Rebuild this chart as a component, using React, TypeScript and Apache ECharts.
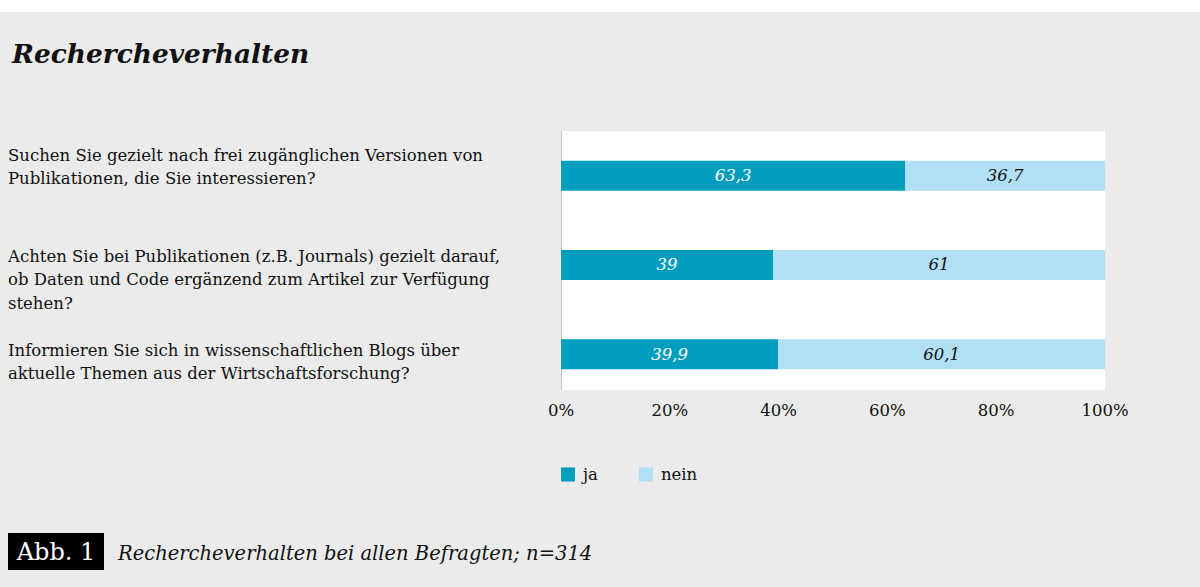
import React, { useEffect, useRef } from "react";
import * as echarts from "echarts";

const chartTitle = "Recherche" + "verhalten";
const categories = [
  "Suchen Sie gezielt nach frei zugänglichen Versionen von\nPublikationen, die Sie interessieren?",
  "Achten Sie bei Publikationen (z.B. Journals) gezielt darauf,\nob Daten und Code ergänzend zum Artikel zur Verfügung\nstehen?",
  "Informieren Sie sich in wissenschaftlichen Blogs über\naktuelle Themen aus der Wirtschaftsforschung?",
];
const seriesNames = ["ja", "nein"];
const jaValues = [63.3, 39, 39.9];
const neinValues = [36.7, 61, 60.1];
const figureLabel = "Abb. 1";
const caption = "Recherche" + "verhalten bei allen Befragten; n=314";

// layout (not data): top edge of each question's text block
const labelTops = [143.5, 244.5, 338.5];

const FONT = "'DejaVu Serif', serif";
const JA = "#009dbd";
const NEIN = "#b1dff6";
const BG = "#ebebeb";

export default function App() {
  const ref = useRef<HTMLDivElement>(null);
  useEffect(() => {
    if (!ref.current) return;
    const chart = echarts.init(ref.current, undefined, { renderer: "svg" });
    const fmt = (p: any) => String(p.value).replace(".", ",");
    chart.setOption({
      animation: false,
      backgroundColor: BG,
      textStyle: { fontFamily: FONT },
      title: {
        text: chartTitle,
        left: 7,
        top: 35,
        textStyle: {
          fontFamily: FONT,
          fontSize: 26.4,
          fontStyle: "italic",
          fontWeight: "bold",
          color: "#111",
        },
      },
      legend: {
        data: seriesNames,
        left: 561,
        top: 466,
        padding: 0,
        icon: "rect",
        itemWidth: 14,
        itemHeight: 14,
        itemGap: 41,
        textStyle: { fontFamily: FONT, fontSize: 16.5, color: "#111", padding: [0, 0, 0, 3] },
      },
      grid: {
        left: 561,
        width: 544,
        top: 131,
        height: 267.75,
        containLabel: false,
        outerBoundsMode: "none",
      },
      xAxis: {
        type: "value",
        min: 0,
        max: 100,
        interval: 20,
        axisLine: { show: false },
        axisTick: { show: false },
        splitLine: { show: false },
        axisLabel: {
          formatter: "{value}%",
          margin: 3,
          fontFamily: FONT,
          fontSize: 16.5,
          color: "#111",
        },
      },
      yAxis: {
        type: "category",
        inverse: true,
        data: categories,
        axisLine: { show: false },
        axisTick: { show: false },
        axisLabel: { show: false },
      },
      graphic: [
        { type: "rect", shape: { x: 0, y: 0, width: 1200, height: 12 }, style: { fill: "#fff" }, z: -10, silent: true },
        { type: "rect", shape: { x: 561, y: 131, width: 544, height: 259 }, style: { fill: "#fff" }, z: -10, silent: true },
        { type: "line", shape: { x1: 561.5, y1: 131, x2: 561.5, y2: 390 }, style: { stroke: "#c6c6c6", lineWidth: 1 }, z: -5, silent: true },
        ...categories.map((c, i) => ({
          type: "text",
          x: 8,
          y: labelTops[i],
          style: {
            text: c,
            fill: "#111",
            font: `16.5px ${FONT}`,
            lineHeight: 23.5,
            align: "left",
            verticalAlign: "top",
          },
        })),
        { type: "rect", shape: { x: 8, y: 533, width: 96, height: 37 }, style: { fill: "#000" } },
        {
          type: "text",
          x: 56,
          y: 552,
          style: { text: figureLabel, fill: "#fff", font: `24px ${FONT}`, align: "center", verticalAlign: "middle" },
        },
        {
          type: "text",
          x: 118,
          y: 553,
          style: { text: caption, fill: "#111", font: `italic 19.5px ${FONT}`, align: "left", verticalAlign: "middle" },
        },
      ],
      series: [
        {
          name: seriesNames[0],
          type: "bar",
          stack: "total",
          barWidth: 30,
          itemStyle: { color: JA },
          label: { show: true, position: "inside", formatter: fmt, color: "#fff", fontFamily: FONT, fontSize: 16.5, fontStyle: "italic" },
          data: jaValues,
        },
        {
          name: seriesNames[1],
          type: "bar",
          stack: "total",
          barWidth: 30,
          itemStyle: { color: NEIN },
          label: { show: true, position: "inside", formatter: fmt, color: "#111", fontFamily: FONT, fontSize: 16.5, fontStyle: "italic" },
          data: neinValues,
        },
      ],
    });
    return () => chart.dispose();
  }, []);
  return <div ref={ref} style={{ position: "fixed", left: 0, top: 0, width: 1200, height: 587 }} />;
}
